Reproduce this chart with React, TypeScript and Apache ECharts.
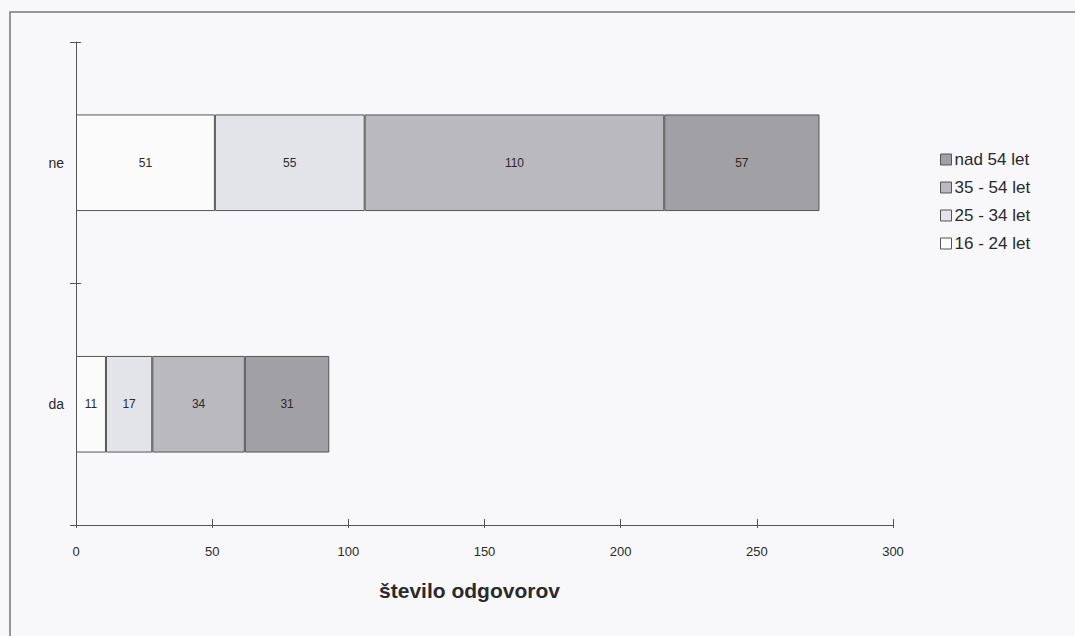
import React, { useEffect, useRef } from "react";
import * as echarts from "echarts";

const categories = ["da", "ne"];
const seriesNames = ["16 - 24 let", "25 - 34 let", "35 - 54 let", "nad 54 let"];
const v16_24 = [11, 51];
const v25_34 = [17, 55];
const v35_54 = [34, 110];
const vNad54 = [31, 57];
const xTicks = { min: 0, max: 300, interval: 50 };
const colors = ["#fbfbfc", "#e3e4ea", "#b9b9be", "#a0a0a5"];

export default function App() {
  const ref = useRef<HTMLDivElement>(null);
  useEffect(() => {
    if (!ref.current) return;
    const chart = echarts.init(ref.current, null, { renderer: "svg" });
    const values = [v16_24, v25_34, v35_54, vNad54];
    const font = "Liberation Sans, Arial, sans-serif";
    const series: any[] = seriesNames.map((name, i) => ({
      name,
      type: "bar",
      stack: "total",
      barWidth: "40%",
      data: values[i],
      itemStyle: { color: colors[i], borderColor: "#555", borderWidth: 1 },
      label: {
        show: true,
        position: "inside",
        color: "#2a2a2a",
        fontSize: 12,
        fontFamily: font,
      },
    }));
    chart.setOption({
      animation: false,
      backgroundColor: "#f8f8fa",
      textStyle: { fontFamily: font },
      grid: { left: 76, right: 182, top: 42, bottom: 111 },
      legend: {
        orient: "vertical",
        left: 935,
        top: 146,
        icon: "rect",
        itemWidth: 11,
        itemHeight: 11,
        itemGap: 11,
        data: [...seriesNames].reverse(),
        textStyle: { fontSize: 17, color: "#2a2a2a", fontFamily: font, padding: [0, 0, 0, -2] },
        itemStyle: { borderColor: "#555", borderWidth: 1 },
      },
      xAxis: [
        {
          type: "value",
          min: xTicks.min,
          max: xTicks.max,
          interval: xTicks.interval,
          name: "število odgovorov",
          nameLocation: "middle",
          nameGap: 55,
          nameTextStyle: {
            fontSize: 21,
            fontWeight: "bold",
            color: "#2a2a2a",
            fontFamily: font,
            padding: [0, 30, 0, 0],
          },
          axisLine: { show: true, lineStyle: { color: "#555", width: 1 } },
          axisTick: { show: true, inside: true, length: 6, lineStyle: { color: "#555" } },
          axisLabel: { fontSize: 13, color: "#2a2a2a", margin: 20, fontFamily: font },
          splitLine: { show: false },
        },
        {
          type: "value",
          position: "bottom",
          min: xTicks.min,
          max: xTicks.max,
          interval: xTicks.interval,
          axisLine: { show: false },
          axisTick: { show: true, inside: false, length: 3, lineStyle: { color: "#555" } },
          axisLabel: { show: false },
          splitLine: { show: false },
        },
      ],
      yAxis: [
        {
          type: "category",
          data: categories,
          axisLine: { show: true, lineStyle: { color: "#555", width: 1 } },
          axisTick: { show: true, inside: false, length: 6, lineStyle: { color: "#555" } },
          axisLabel: { fontSize: 14, color: "#2a2a2a", margin: 12, fontFamily: font },
        },
        {
          type: "category",
          position: "left",
          data: categories,
          axisLine: { show: false },
          axisTick: { show: true, inside: true, length: 5, lineStyle: { color: "#555" } },
          axisLabel: { show: false },
        },
      ],
      graphic: [
        {
          type: "rect",
          shape: { x: 10, y: 12, width: 1100, height: 700 },
          style: { fill: "none", stroke: "#777", lineWidth: 1.5 },
          silent: true,
        },
      ],
      series,
    });
    return () => chart.dispose();
  }, []);
  return (
    <div
      ref={ref}
      style={{ position: "absolute", left: 0, top: 0, width: 1075, height: 636 }}
    />
  );
}
